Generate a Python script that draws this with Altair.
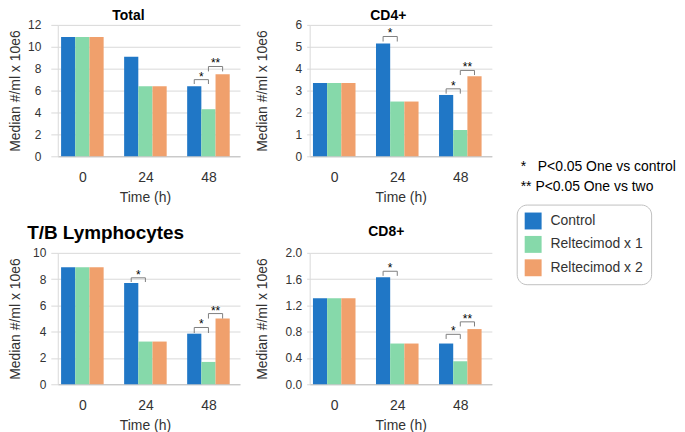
import altair as alt
import pandas as pd

FONT = "Liberation Sans"

times = ["0", "24", "48"]
series = ["Control", "Reltecimod x 1", "Reltecimod x 2"]
colors = ["#2077c6", "#86d9aa", "#f0a06c"]

total_control = [10.9, 9.1, 6.4]
total_rel1 = [10.9, 6.4, 4.3]
total_rel2 = [10.9, 6.4, 7.5]

cd4_control = [3.35, 5.15, 2.8]
cd4_rel1 = [3.35, 2.5, 1.2]
cd4_rel2 = [3.35, 2.5, 3.65]

tb_control = [8.9, 7.7, 3.85]
tb_rel1 = [8.9, 3.25, 1.7]
tb_rel2 = [8.9, 3.25, 5.0]

cd8_control = [1.31, 1.63, 0.62]
cd8_rel1 = [1.31, 0.62, 0.35]
cd8_rel2 = [1.31, 0.62, 0.84]

# (time index, from series, to series, bracket top, leg bottom, label)
total_brackets = [(2, 0, 1, 7.0, 6.6, "*"), (2, 1, 2, 8.2, 7.75, "**")]
cd4_brackets = [(1, 0, 1, 5.47, 5.24, "*"), (2, 0, 1, 3.08, 2.86, "*"), (2, 1, 2, 3.92, 3.71, "**")]
tb_brackets = [(1, 0, 1, 8.1, 7.78, "*"), (2, 0, 1, 4.32, 3.9, "*"), (2, 1, 2, 5.38, 5.0, "**")]
cd8_brackets = [(1, 0, 1, 1.72, 1.65, "*"), (2, 0, 1, 0.76, 0.69, "*"), (2, 1, 2, 0.95, 0.88, "**")]

note_control = "*\u00a0\u00a0\u00a0P<0.05 One vs control"
note_two = "**\u00a0P<0.05 One vs two"

OFFSETS = [-0.225, 0.0, 0.225]
HW = 0.1125
XDOM = [-0.39, 2.5]
W, H = 183, 132

legend = alt.Legend(
    orient="none", legendX=461, legendY=180.5, title=None,
    symbolType="square", symbolSize=289, symbolStrokeWidth=0,
    labelFontSize=14, labelFont=FONT, labelColor="#333333", labelOffset=9,
    strokeColor="#bfbfbf", cornerRadius=10, padding=8, rowPadding=6.5,
    fillColor="white",
)

label_expr = "[" + ",".join("'%s'" % t for t in times) + "][datum.value]"


def panel(title, tsize, toffset, tdx, vals, ymax, ystep, fmt, brackets,
          tick, lp, tp, xtitle_x, extra=None):
    rows = []
    for s, arr in enumerate(vals):
        for t, v in enumerate(arr):
            pos = t + OFFSETS[s]
            rows.append({"x": pos - HW, "x2": pos + HW, "v": v, "zero": 0,
                         "series": series[s]})
    df = pd.DataFrame(rows)

    xscale = alt.Scale(domain=XDOM, nice=False, zero=False)
    yscale = alt.Scale(domain=[0, ymax], nice=False)
    yvals = []
    k = 0
    while k * ystep <= ymax + 1e-9:
        yvals.append(round(k * ystep, 4))
        k += 1

    xaxis = alt.Axis(values=[0, 1, 2], labelExpr=label_expr, title="Time (h)",
                     grid=False, ticks=False, tickSize=0, labelPadding=14,
                     labelFontSize=14, titleFontSize=14, titlePadding=6,
                     domainColor="#bfbfbf", labelColor="#333333",
                     titleColor="#333333", titleFontWeight="normal",
                     labelFont=FONT, titleFont=FONT, titleX=xtitle_x,
                     labelOverlap=False)
    yaxis = alt.Axis(values=yvals, format=fmt, title="Median #/ml x 10e6",
                     grid=True, gridColor="#d9d9d9", ticks=True, tickSize=tick,
                     tickColor="#d9d9d9", domainColor="#d9d9d9",
                     labelPadding=lp, titlePadding=tp, labelFontSize=12,
                     titleFontSize=14, labelColor="#333333",
                     titleColor="#333333", titleFontWeight="normal",
                     labelFont=FONT, titleFont=FONT, labelOverlap=False)

    bars = alt.Chart(df).mark_rect().encode(
        x=alt.X("x:Q", scale=xscale, axis=xaxis),
        x2="x2:Q",
        y=alt.Y("v:Q", scale=yscale, axis=yaxis),
        y2="zero:Q",
        color=alt.Color("series:N", scale=alt.Scale(domain=series, range=colors),
                        legend=legend),
    )

    seg = []
    stars = []
    for (t, a, b, top, base, lab) in brackets:
        xa = t + OFFSETS[a]
        xb = t + OFFSETS[b]
        seg.append({"x": xa, "x2": xb, "y": top, "y2": top})
        seg.append({"x": xa, "x2": xa, "y": top, "y2": base})
        seg.append({"x": xb, "x2": xb, "y": top, "y2": base})
        stars.append({"x": (xa + xb) / 2, "y": top, "label": lab})
    segdf = pd.DataFrame(seg)
    stardf = pd.DataFrame(stars)

    rules = alt.Chart(segdf).mark_rule(color="#7f7f7f", strokeWidth=1).encode(
        x=alt.X("x:Q", scale=xscale, axis=xaxis), x2="x2:Q",
        y=alt.Y("y:Q", scale=yscale, axis=yaxis), y2="y2:Q",
    )
    startext = alt.Chart(stardf).mark_text(
        font=FONT, fontSize=12, color="#000000", baseline="alphabetic", dy=1
    ).encode(
        x=alt.X("x:Q", scale=xscale, axis=xaxis),
        y=alt.Y("y:Q", scale=yscale, axis=yaxis),
        text="label:N",
    )
    layers = [bars, rules, startext]
    if extra is not None:
        layers.extend(extra)
    return alt.layer(*layers).properties(
        width=W, height=H,
        title=alt.TitleParams(title, fontSize=tsize, fontWeight="bold", font=FONT,
                              color="#000000", offset=toffset, dx=tdx,
                              anchor="middle"),
    )


def note(text, ypix):
    return alt.Chart(pd.DataFrame({"text": [text]})).mark_text(
        font=FONT, fontSize=14, color="#000000", align="left", baseline="middle"
    ).encode(x=alt.value(212), y=alt.value(ypix), text="text:N")


notes_layers = [note(note_control, 142.5), note(note_two, 162.5)]

A = panel("Total", 14, -4, -20.5, [total_control, total_rel1, total_rel2], 12, 2, "d",
          total_brackets, 7, 10, 5, 87.5)
B = panel("CD4+", 14, -4, -12.5, [cd4_control, cd4_rel1, cd4_rel2], 6, 1, "d",
          cd4_brackets, 3, 5, 26, 91.5, extra=notes_layers)
C = panel("T/B Lymphocytes", 19, 4, -43.5, [tb_control, tb_rel1, tb_rel2], 10, 2, "d",
          tb_brackets, 7, 5, 10, 87.5)
D = panel("CD8+", 14, 8, -14.5, [cd8_control, cd8_rel1, cd8_rel2], 2.0, 0.4, ".1f",
          cd8_brackets, 3, 5, 16, 91.5)

chart = alt.concat(A, B, C, D, columns=2, spacing={"row": 20, "column": 15},
                   align="each").properties(padding=0).configure_view(stroke=None)

chart.save("out.html", embed_options={"renderer": "svg", "actions": False})
